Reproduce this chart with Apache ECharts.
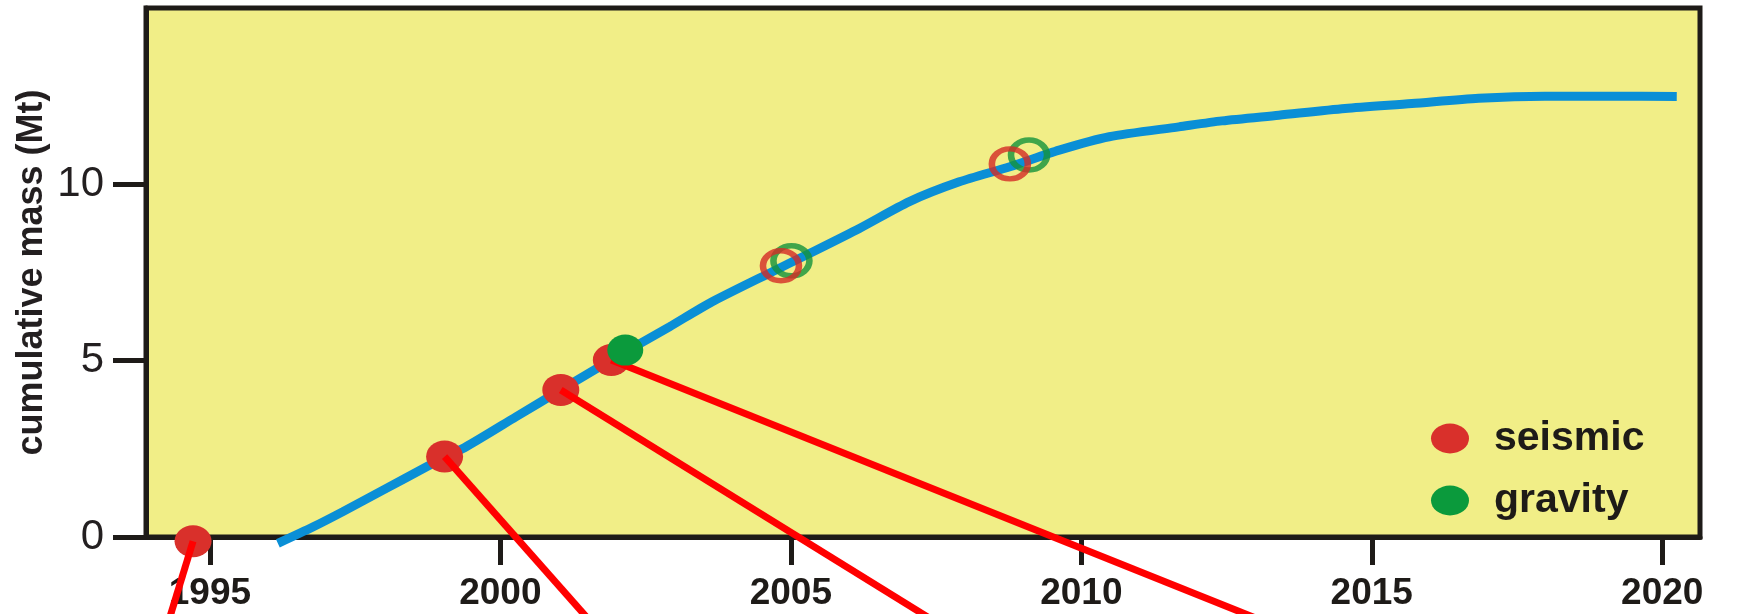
<!DOCTYPE html>
<html>
<head>
<meta charset="utf-8">
<script src="https://cdn.jsdelivr.net/npm/echarts@6/dist/echarts.min.js"></script>
<style>
  html, body { margin: 0; padding: 0; background: #ffffff; }
  #chart { width: 1744px; height: 614px; }
</style>
</head>
<body>
<div id="chart"></div>
<script>
// Cumulative mass curve (year, Mt)
const curveYears = [1996.17, 1996.78, 1997.29, 1997.98, 1998.73, 1999.41, 2000.27, 2001.04, 2001.91, 2002.91,
                    2003.60, 2004.63, 2005.32, 2006.18, 2007.04, 2007.90, 2008.77, 2009.62, 2010.48, 2011.68,
                    2012.42, 2013.40, 2014.54, 2015.69, 2016.84, 2017.98, 2019.13, 2020.25];
const curveMass  = [-0.18, 0.29, 0.72, 1.33, 1.99, 2.56, 3.41, 4.17, 5.02, 5.96,
                    6.63, 7.48, 8.04, 8.75, 9.51, 10.07, 10.50, 10.97, 11.35, 11.63,
                    11.80, 11.96, 12.15, 12.29, 12.44, 12.50, 12.50, 12.49];

// Seismic estimates (filled) and later seismic estimates (open rings)
const seismicYears = [1994.71, 1999.04, 2001.04, 2001.91];
const seismicMass  = [-0.12, 2.28, 4.17, 5.02];
const seismicOpenYears = [2004.83, 2008.77];
const seismicOpenMass  = [7.69, 10.58];

// Gravity estimates (filled) and open rings
const gravityYears = [2002.15];
const gravityMass  = [5.30];
const gravityOpenYears = [2005.01, 2009.10];
const gravityOpenMass  = [7.83, 10.83];

// Leader lines run from each filled seismic point down past the bottom edge
const leaderEndYears = [1994.25, 2001.66, 2007.68, 2013.46];
const leaderEndMass  = [-2.6, -2.6, -2.6, -2.6];

// Axis tick values
const xTicks = [1995, 2000, 2005, 2010, 2015, 2020];
const yTicks = [0, 5, 10];

const ELLIPSE = 'path://M0,16A19,16,0,1,1,38,16A19,16,0,1,1,0,16Z';
const pairs = (xs, ys) => xs.map((x, i) => [x, ys[i]]);

const chart = echarts.init(document.getElementById('chart'), null, { renderer: 'canvas' });

chart.setOption({
  animation: false,
  backgroundColor: '#ffffff',
  grid: {
    left: 146, right: 44, top: 8, bottom: 77,
    show: true,
    backgroundColor: '#f1ee87',
    borderColor: '#1e1b18',
    borderWidth: 5
  },
  xAxis: {
    type: 'value',
    min: 1993.9,
    max: 2020.65,
    splitLine: { show: false },
    axisLine: { show: true, lineStyle: { color: '#1e1b18', width: 5 } },
    axisTick: {
      show: true, length: 28, inside: false,
      customValues: xTicks,
      lineStyle: { color: '#1e1b18', width: 5 }
    },
    axisLabel: {
      customValues: xTicks,
      margin: 38,
      fontFamily: 'Liberation Sans, Arial, sans-serif',
      fontWeight: 'bold',
      fontSize: 37,
      color: '#1e1b18',
      formatter: v => String(v)
    }
  },
  yAxis: {
    type: 'value',
    min: 0,
    max: 15,
    splitLine: { show: false },
    axisLine: { show: true, lineStyle: { color: '#1e1b18', width: 5 } },
    axisTick: {
      show: true, length: 33, inside: false,
      customValues: yTicks,
      lineStyle: { color: '#1e1b18', width: 5 }
    },
    axisLabel: {
      customValues: yTicks,
      margin: 42,
      fontFamily: 'Liberation Sans, Arial, sans-serif',
      fontSize: 42,
      color: '#231f20'
    },
    name: 'cumulative mass (Mt)',
    nameLocation: 'middle',
    nameGap: 96,
    nameMoveOverlap: false,
    nameTextStyle: {
      fontFamily: 'Liberation Sans, Arial, sans-serif',
      fontWeight: 'bold',
      fontSize: 36,
      color: '#231f20'
    }
  },
  legend: {
    orient: 'vertical',
    left: 1426,
    top: 413,
    itemWidth: 38,
    itemHeight: 30,
    itemGap: 21,
    symbolKeepAspect: false,
    selectedMode: false,
    textStyle: {
      fontFamily: 'Liberation Sans, Arial, sans-serif',
      fontWeight: 'bold',
      fontSize: 41,
      lineHeight: 40,
      color: '#1e1b18',
      padding: [0, 0, 0, 20]
    },
    data: [
      { name: 'seismic', icon: ELLIPSE },
      { name: 'gravity', icon: ELLIPSE }
    ]
  },
  series: [
    {
      name: 'cumulative mass',
      type: 'line',
      data: pairs(curveYears, curveMass),
      showSymbol: false,
      smooth: 0.25,
      clip: false,
      z: 2,
      lineStyle: { color: '#0a8fd6', width: 9, cap: 'butt' }
    },
    {
      name: 'seismic',
      type: 'scatter',
      data: pairs(seismicYears, seismicMass),
      symbol: ELLIPSE,
      symbolSize: [37, 32],
      clip: false,
      z: 3,
      itemStyle: { color: '#d9302b', opacity: 1 }
    },
    {
      name: 'leaders',
      type: 'lines',
      coordinateSystem: 'cartesian2d',
      clip: false,
      z: 4,
      lineStyle: { color: '#ff0000', width: 7, opacity: 1 },
      data: seismicYears.map((x, i) => ({
        coords: [[x, seismicMass[i]], [leaderEndYears[i], leaderEndMass[i]]]
      }))
    },
    {
      name: 'gravity',
      type: 'scatter',
      data: pairs(gravityYears, gravityMass),
      symbol: ELLIPSE,
      symbolSize: [36, 31],
      clip: false,
      z: 5,
      itemStyle: { color: '#0b9a3c', opacity: 1 }
    },
    {
      name: 'gravity rings',
      type: 'scatter',
      data: pairs(gravityOpenYears, gravityOpenMass),
      symbol: ELLIPSE,
      symbolSize: [36, 30],
      clip: false,
      z: 6,
      itemStyle: { color: 'rgba(0,0,0,0)', borderColor: '#14923b', borderWidth: 6 }
    },
    {
      name: 'seismic rings',
      type: 'scatter',
      data: pairs(seismicOpenYears, seismicOpenMass),
      symbol: ELLIPSE,
      symbolSize: [36, 30],
      clip: false,
      z: 7,
      itemStyle: { color: 'rgba(0,0,0,0)', borderColor: '#d42a26', borderWidth: 6 }
    }
  ]
});
</script>
</body>
</html>
